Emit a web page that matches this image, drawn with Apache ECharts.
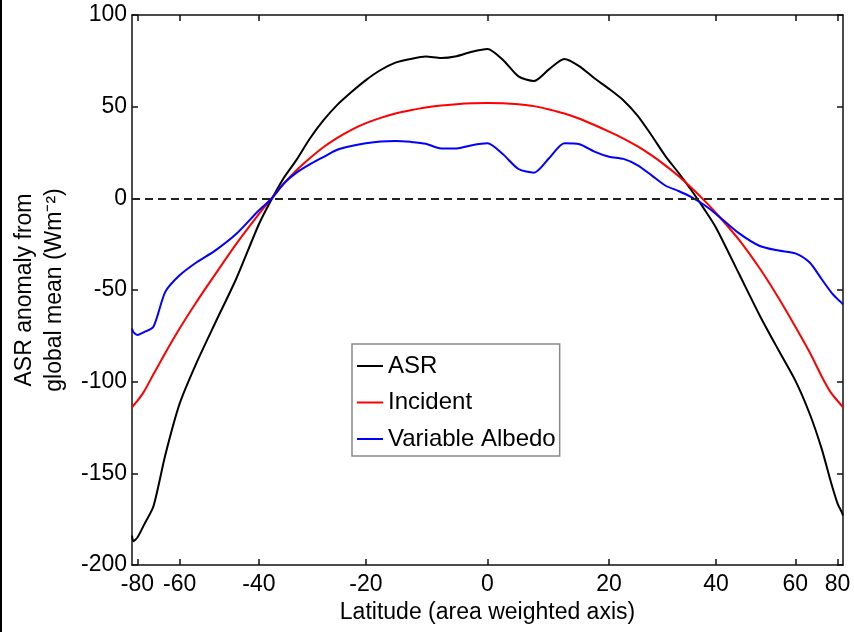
<!DOCTYPE html>
<html>
<head>
<meta charset="utf-8">
<script src="https://cdn.jsdelivr.net/npm/echarts@6/dist/echarts.min.js"></script>
<style>
  html, body { margin: 0; padding: 0; background: #fff; }
  #chart { width: 854px; height: 632px; }
</style>
</head>
<body>
<div id="chart"></div>
<script>
// Latitudes (degrees) at which the curves were read
const latitudes = [-90,-85,-80,-75,-70,-65,-60,-55,-50,-45,-40,-37.5,-35,-32.5,-30,-27.5,-25,-22.5,-20,-17.5,-15,-12.5,-10,-7.5,-5,-2.5,0,2.5,5,7.5,10,12.5,15,17.5,20,22.5,25,27.5,30,32.5,35,37.5,40,45,50,55,60,65,70,75,80,85,90];

// ASR anomaly from global mean (W m^-2)
const asr = [-184,-187,-185,-178,-168,-140,-112,-90,-68,-44,-14,-1,11,21,32.5,42.5,51,58,64.5,70,74,76,77.3,76.5,77.5,80,81.5,75.5,66.5,64,70.5,76,72,65.5,59.7,53.4,45,34.3,23.2,13.9,4.4,-5.6,-16,-41,-64,-83,-99.4,-117.5,-136.4,-154.7,-166.5,-171,-173];

// Incident contribution
const incident = [-114,-113,-110.5,-105.3,-96,-84.3,-71,-56.7,-41.5,-25,-8.5,-0.3,7.8,15.3,21.9,27.9,33,37.4,41,43.9,46.3,48.1,49.6,50.6,51.3,51.8,52,51.9,51.3,50.3,48.5,46.3,43.4,40,36.4,32.6,28.3,23.4,18,12.2,5.8,-1,-8,-22.5,-38.3,-54.5,-70,-84,-97,-106,-110.5,-113,-114];

// Variable albedo contribution
const albedo = [-71,-73,-74.5,-73,-70,-51,-42,-35,-28.5,-19.5,-6.5,-0.5,8,14,18.5,22.5,26.5,28.5,30,31,31.3,30.8,29.8,27.2,27.2,29,30,24,16,14,22,30,29.5,25.5,22.7,21.5,18,12.5,7,4,0.7,-3.5,-8.5,-19,-26,-28.5,-30,-35,-44,-51,-55,-57,-58];

// Tick labels on the area-weighted latitude axis
const xTickLats = [-80,-60,-40,-20,0,20,40,60,80];
const yMin = -200, yMax = 100, yStep = 50;

const seriesNames = ['ASR', 'Incident', 'Variable Albedo'];
const seriesColors = ['#000000', '#ff0000', '#0000ff'];

const toX = lat => Math.sin(lat * Math.PI / 180);
const pairs = vals => latitudes.map((lat, i) => [toX(lat), vals[i]]);
const xTickPos = xTickLats.map(toX);

const FONT = '"Liberation Sans", Arial, Helvetica, sans-serif';
const AX = '#111';

const chart = echarts.init(document.getElementById('chart'), null, { renderer: 'canvas' });

const baseX = {
  type: 'value', min: -1, max: 1,
  axisLine: { show: true, onZero: false, lineStyle: { color: AX, width: 1.5 } },
  axisTick: { show: true, inside: true, length: 6, customValues: xTickPos, lineStyle: { color: AX, width: 1.5 } },
  splitLine: { show: false }
};
const baseY = {
  type: 'value', min: yMin, max: yMax, interval: yStep,
  axisLine: { show: true, onZero: false, lineStyle: { color: AX, width: 1.5 } },
  axisTick: { show: true, inside: true, length: 6, lineStyle: { color: AX, width: 1.5 } },
  splitLine: { show: false }
};

const mkSeries = (name, vals, color, extra) => Object.assign({
  name, type: 'line', data: pairs(vals),
  xAxisIndex: 0, yAxisIndex: 0,
  showSymbol: false, symbol: 'none',
  smooth: 0.25,
  lineStyle: { color, width: 2 },
  itemStyle: { color },
  emphasis: { disabled: true },
  animation: false
}, extra || {});

chart.setOption({
  backgroundColor: '#ffffff',
  animation: false,
  textStyle: { fontFamily: FONT },
  grid: { left: 132, right: 11, top: 15, bottom: 67 },
  legend: {
    data: seriesNames,
    orient: 'vertical',
    left: 352, top: 344,
    padding: [10, 4, 5, 5],
    icon: 'rect',
    itemWidth: 26, itemHeight: 2,
    itemGap: 12.5,
    borderColor: '#8a8a8a', borderWidth: 1.5,
    backgroundColor: '#ffffff',
    textStyle: { fontSize: 24, color: '#000', fontFamily: FONT, lineHeight: 24 }
  },
  xAxis: [
    Object.assign({}, baseX, {
      position: 'bottom',
      name: 'Latitude (area weighted axis)',
      nameLocation: 'middle', nameGap: 33,
      nameTextStyle: { fontSize: 23, color: '#000', fontFamily: FONT },
      axisLabel: {
        show: true, margin: 8, fontSize: 23, color: '#000', fontFamily: FONT,
        customValues: xTickPos,
        formatter: v => String(Math.round(Math.asin(Math.max(-1, Math.min(1, v))) * 180 / Math.PI))
      }
    }),
    Object.assign({}, baseX, { position: 'top', axisLabel: { show: false } })
  ],
  yAxis: [
    Object.assign({}, baseY, {
      position: 'left',
      name: 'ASR anomaly from\nglobal mean (Wm\u207B\u00B2)',
      nameLocation: 'middle', nameGap: 61,
      nameTextStyle: { fontSize: 23, color: '#000', fontFamily: FONT, lineHeight: 30 },
      axisLabel: { show: true, margin: 5, fontSize: 23, color: '#000', fontFamily: FONT }
    }),
    Object.assign({}, baseY, { position: 'right', axisLabel: { show: false } })
  ],
  graphic: [
    { type: 'rect', left: 0, top: 0, shape: { width: 2, height: 632 }, style: { fill: '#000' }, silent: true }
  ],
  series: [
    mkSeries(seriesNames[0], asr, seriesColors[0], {
      markLine: {
        silent: true, symbol: 'none', animation: false,
        label: { show: false },
        lineStyle: { color: '#222', width: 2, type: [8, 5] },
        data: [{ yAxis: 0 }]
      }
    }),
    mkSeries(seriesNames[1], incident, seriesColors[1]),
    mkSeries(seriesNames[2], albedo, seriesColors[2])
  ]
});
</script>
</body>
</html>
